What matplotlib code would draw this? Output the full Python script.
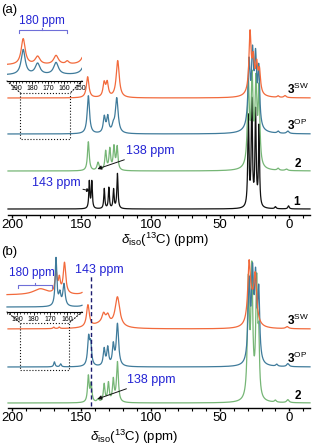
import numpy as np
import matplotlib
matplotlib.use("Agg")
import matplotlib.pyplot as plt
from matplotlib.patches import ConnectionPatch
from matplotlib.ticker import MultipleLocator

plt.rcParams["font.family"] = ["Liberation Sans", "DejaVu Sans"]
plt.rcParams["mathtext.fontset"] = "custom"
plt.rcParams["mathtext.rm"] = "Liberation Sans"
plt.rcParams["mathtext.bf"] = "Liberation Sans:bold"
plt.rcParams["mathtext.it"] = "Liberation Sans:italic"

ORANGE = "#f26a3c"
BLUE = "#3f7b9b"
GREEN = "#76b676"
BLACK = "#111111"
TXTBLUE = "#2323d4"

# ---- peak lists: (ppm, height in px, half width in ppm) ----
# panel (a)
a1_pos = [144.3, 142.5, 133.5, 130.2, 126.8, 124.0, 29.5, 27.0, 24.3, 21.8, 10.0, 0.5]
a1_h   = [27, 27, 20, 21, 19, 35, 90, 105, 95, 80, 2, 3]
a1_w   = [0.45, 0.45, 0.45, 0.45, 0.45, 0.5, 0.5, 0.5, 0.5, 0.45, 0.6, 0.6]

a2_pos = [145.0, 138.0, 132.5, 129.5, 126.5, 124.2, 29.5, 26.8, 24.0, 21.8, 27.0, 8.0, 2.0]
a2_h   = [29, 8, 19, 21, 23, 23, 80, 82, 80, 74, 5, 2, 1.5]
a2_w   = [0.75, 0.9, 0.7, 0.7, 0.7, 0.7, 0.8, 0.8, 0.8, 0.7, 4.0, 0.8, 1.0]

a3op_pos = [145.0, 133.5, 131.0, 127.0, 124.5, 29.0, 26.5, 24.3, 22.0, 27.0, 8.0, 1.0]
a3op_h   = [38, 16, 16, 6, 35, 62, 66, 64, 56, 5, 2, 2.5]
a3op_w   = [1.0, 0.9, 0.9, 1.0, 1.2, 0.9, 0.9, 0.9, 0.8, 5.0, 0.8, 1.0]

a3sw_pos = [145.5, 133.6, 131.4, 123.8, 28.3, 26.0, 23.5, 21.5, 26.0, 8.0, 3.0]
a3sw_h   = [21, 14, 14, 37, 58, 28, 25, 22, 7, 1.5, 2]
a3sw_w   = [1.1, 1.0, 1.0, 1.3, 0.9, 0.9, 0.9, 0.9, 4.0, 0.8, 1.0]

# panel (b)
b2_pos = [145.0, 143.0, 138.0, 133.6, 130.5, 127.0, 124.0, 29.5, 27.0, 23.5, 22.0, 10.0, 1.0]
b2_h   = [26, 18, 3, 18, 19, 22, 40, 115, 125, 115, 50, 2, 3]
b2_w   = [0.7, 0.7, 0.9, 0.7, 0.7, 0.7, 0.8, 0.8, 0.8, 0.8, 0.6, 0.8, 1.0]

b3op_pos = [144.8, 143.3, 133.6, 131.0, 127.0, 124.0, 29.0, 26.5, 24.3, 22.0, 169.5, 165.0, 9.0, 1.0]
b3op_h   = [28, 20, 17, 18, 20, 42, 78, 82, 78, 68, 5, 3, 2, 3]
b3op_w   = [0.9, 0.8, 0.8, 0.8, 0.8, 1.0, 0.9, 0.9, 0.9, 0.8, 0.6, 0.6, 0.8, 1.0]

b3sw_pos = [145.3, 134.0, 131.0, 124.0, 135.0, 29.0, 24.5, 27.0, 170.0, 166.0, 1.5]
b3sw_h   = [22, 9, 8, 30, 5, 54, 44, 20, 1.5, 1.5, 2]
b3sw_w   = [1.2, 1.4, 1.4, 2.0, 8.0, 1.1, 1.2, 2.5, 0.6, 0.6, 1.2]

# insets (magnified 195-150 ppm region)
ia_sw_pos = [185.5, 176.5, 165.0, 158.0, 145.0]
ia_sw_h   = [26, 8, 9, 3, 110]
ia_sw_w   = [1.5, 1.8, 1.8, 1.2, 1.0]
ia_op_pos = [185.5, 176.5, 165.0, 145.0]
ia_op_h   = [25, 11, 12, 100]
ia_op_w   = [1.5, 1.8, 1.8, 1.0]

ib_sw_pos = [176.0, 166.6, 164.6, 161.5, 148.0]
ib_sw_h   = [6, 22, 14, 31, 20]
ib_sw_w   = [5.0, 0.7, 0.7, 0.9, 1.0]
ib_op_pos = [166.6, 164.3, 161.8, 148.0]
ib_op_h   = [48, 12, 22, 15]
ib_op_w   = [0.6, 0.7, 0.8, 1.0]

# baselines (px above the axis line)
a_base = {"1": 6, "2": 44, "3op": 81, "3sw": 117}
b_base = {"2": 5, "3op": 41, "3sw": 79}


def spectrum(x, pos, h, w):
    y = np.zeros_like(x)
    for p, hh, ww in zip(pos, h, w):
        y += hh * ww ** 2 / ((x - p) ** 2 + ww ** 2)
    return y


W, H = 312, 445
fig = plt.figure(figsize=(W / 100, H / 100), dpi=100)


def box(left, top, right, bottom):
    return [left / W, 1 - bottom / H, (right - left) / W, (bottom - top) / H]


def style_main(ax):
    ax.set_xlim(203, -15)
    for s in ("left", "right", "top"):
        ax.spines[s].set_visible(False)
    ax.spines["bottom"].set_linewidth(1.0)
    ax.set_yticks([])
    ax.xaxis.set_major_locator(MultipleLocator(50))
    ax.xaxis.set_minor_locator(MultipleLocator(10))
    ax.tick_params(axis="x", which="major", length=2.5, width=1.0, labelsize=9.5, pad=0.2)
    ax.tick_params(axis="x", which="minor", length=1.8, width=0.8)
    ax.patch.set_alpha(0)


def style_inset(ax):
    for s in ("left", "right", "top"):
        ax.spines[s].set_visible(False)
    ax.spines["bottom"].set_linewidth(0.8)
    ax.set_yticks([])
    ax.xaxis.set_major_locator(MultipleLocator(10))
    ax.xaxis.set_minor_locator(MultipleLocator(2))
    ax.tick_params(axis="x", which="major", length=2.5, width=0.6, labelsize=5, pad=0.5)
    ax.tick_params(axis="x", which="minor", length=1.5, width=0.5)
    ax.patch.set_alpha(0)


XLABEL = r"$\delta_{\rm iso}$($^{13}$C) (ppm)"
x = np.linspace(203, -15, 4000)
lw = 0.9

# ================= panel (a) =================
axa = fig.add_axes(box(8, 0, 310, 215))
style_main(axa)
axa.set_ylim(0, 215)
axa.plot(x, a_base["1"] + spectrum(x, a1_pos, a1_h, a1_w), color=BLACK, lw=lw, clip_on=False)
axa.plot(x, a_base["2"] + spectrum(x, a2_pos, a2_h, a2_w), color=GREEN, lw=lw, clip_on=False)
axa.plot(x, a_base["3op"] + spectrum(x, a3op_pos, a3op_h, a3op_w), color=BLUE, lw=lw, clip_on=False)
axa.plot(x, a_base["3sw"] + spectrum(x, a3sw_pos, a3sw_h, a3sw_w), color=ORANGE, lw=lw, clip_on=False)
fig.text(165 / W, 1 - 240 / H, XLABEL, fontsize=9.5, ha="center", va="center")

for key, txt in (("3sw", r"$\mathbf{3}^{\rm SW}$"), ("3op", r"$\mathbf{3}^{\rm OP}$"),
                 ("2", r"$\mathbf{2}$"), ("1", r"$\mathbf{1}$")):
    axa.text(-6, a_base[key] + 1, txt, fontsize=8.5, ha="center", va="bottom")

axa.annotate("138 ppm", xy=(138.5, a_base["2"] + 2), xytext=(118, a_base["2"] + 20),
             fontsize=9, color=TXTBLUE, va="center", ha="left",
             arrowprops=dict(arrowstyle="-|>", color=BLACK, lw=0.7, mutation_scale=6,
                             shrinkA=0, shrinkB=0))
axa.annotate("143 ppm", xy=(143.5, a_base["1"] + 18), xytext=(186, a_base["1"] + 26),
             fontsize=9, color=TXTBLUE, va="center", ha="left",
             arrowprops=dict(arrowstyle="-|>", color=BLACK, lw=0.7, ls="--",
                             mutation_scale=5, shrinkA=0, shrinkB=0))

# zoom box
rx = [194, 158]
ry = [76, 122]
axa.plot([rx[0], rx[0], rx[1], rx[1]], [ry[1], ry[0], ry[0], ry[1]],
         color=BLACK, lw=0.8, ls=":", clip_on=False)
axa.plot(rx, [ry[1], ry[1]], color=BLACK, lw=0.8, ls=":", clip_on=False)

ina = fig.add_axes(box(7, 20, 82, 81))
style_inset(ina)
ina.set_xlim(195.6, 148.8)
ina.set_ylim(0, 61)
xi = np.linspace(195.6, 148.8, 800)
ina.plot(xi, 6 + spectrum(xi, ia_op_pos, ia_op_h, ia_op_w), color=BLUE, lw=lw)
ina.plot(xi, 16 + spectrum(xi, ia_sw_pos, ia_sw_h, ia_sw_w), color=ORANGE, lw=lw)
ina.plot([188.2, 188.2, 158.3, 158.3], [48, 51, 51, 48], color="#6f6fd8", lw=0.8)
ina.plot([173.5, 173.5], [51, 53], color="#6f6fd8", lw=0.8)
ina.text(173.5, 54, "180 ppm", fontsize=8.5, color=TXTBLUE, ha="center", va="bottom")
for xa, xb in ((0, rx[0]), (1, rx[1])):
    fig.add_artist(ConnectionPatch((xa, 0), (xb, ry[1]), coordsA=ina.transAxes,
                                   coordsB=axa.transData, ls=":", lw=0.8, color=BLACK))
fig.text(1 / W, 1 - 10 / H, "(a)", fontsize=9.5, va="center")

# ================= panel (b) =================
axb = fig.add_axes(box(8, 235, 310, 408))
style_main(axb)
axb.set_ylim(0, 173)
axb.plot(x, b_base["2"] + spectrum(x, b2_pos, b2_h, b2_w), color=GREEN, lw=lw, clip_on=False)
axb.plot(x, b_base["3op"] + spectrum(x, b3op_pos, b3op_h, b3op_w), color=BLUE, lw=lw, clip_on=False)
axb.plot(x, b_base["3sw"] + spectrum(x, b3sw_pos, b3sw_h, b3sw_w), color=ORANGE, lw=lw, clip_on=False)
fig.text(134 / W, 1 - 437 / H, XLABEL, fontsize=9.5, ha="center", va="center")

for key, txt in (("3sw", r"$\mathbf{3}^{\rm SW}$"), ("3op", r"$\mathbf{3}^{\rm OP}$"),
                 ("2", r"$\mathbf{2}$")):
    axb.text(-6, b_base[key] + 1, txt, fontsize=8.5, ha="center", va="bottom")

axb.plot([143, 143], [2, 133], color="#1c1c70", lw=1.0, ls=(0, (3, 2)))
axb.text(137, 138, "143 ppm", fontsize=9, color=TXTBLUE, ha="center", va="center")
axb.annotate("138 ppm", xy=(138.5, b_base["2"] + 4), xytext=(117, b_base["2"] + 23),
             fontsize=9, color=TXTBLUE, va="center", ha="left",
             arrowprops=dict(arrowstyle="-|>", color=BLACK, lw=0.7, mutation_scale=6,
                             shrinkA=0, shrinkB=0))

rxb = [194, 159]
ryb = [38, 85]
axb.plot([rxb[0], rxb[0], rxb[1], rxb[1]], [ryb[1], ryb[0], ryb[0], ryb[1]],
         color=BLACK, lw=0.8, ls=":", clip_on=False)
axb.plot(rxb, [ryb[1], ryb[1]], color=BLACK, lw=0.8, ls=":", clip_on=False)

inb = fig.add_axes(box(7, 250, 82, 312))
style_inset(inb)
inb.set_xlim(196, 151)
inb.set_ylim(0, 62)
xi = np.linspace(196, 151, 800)
inb.plot(xi, 17 + spectrum(xi, ib_sw_pos, ib_sw_h, ib_sw_w), color=ORANGE, lw=lw, clip_on=False)
inb.plot(xi, 5 + spectrum(xi, ib_op_pos, ib_op_h, ib_op_w), color=BLUE, lw=lw, clip_on=False)
inb.plot([189.5, 189.5, 169, 169], [24, 27, 27, 24], color="#6f6fd8", lw=0.8)
inb.plot([179, 179], [27, 29], color="#6f6fd8", lw=0.8)
inb.text(181, 33, "180 ppm", fontsize=8.5, color=TXTBLUE, ha="center", va="bottom")
for xa, xb in ((0, rxb[0]), (1, rxb[1])):
    fig.add_artist(ConnectionPatch((xa, 0), (xb, ryb[1]), coordsA=inb.transAxes,
                                   coordsB=axb.transData, ls=":", lw=0.8, color=BLACK))
fig.text(1 / W, 1 - 252 / H, "(b)", fontsize=9.5, va="center")

fig.savefig("out.png", dpi=100)
